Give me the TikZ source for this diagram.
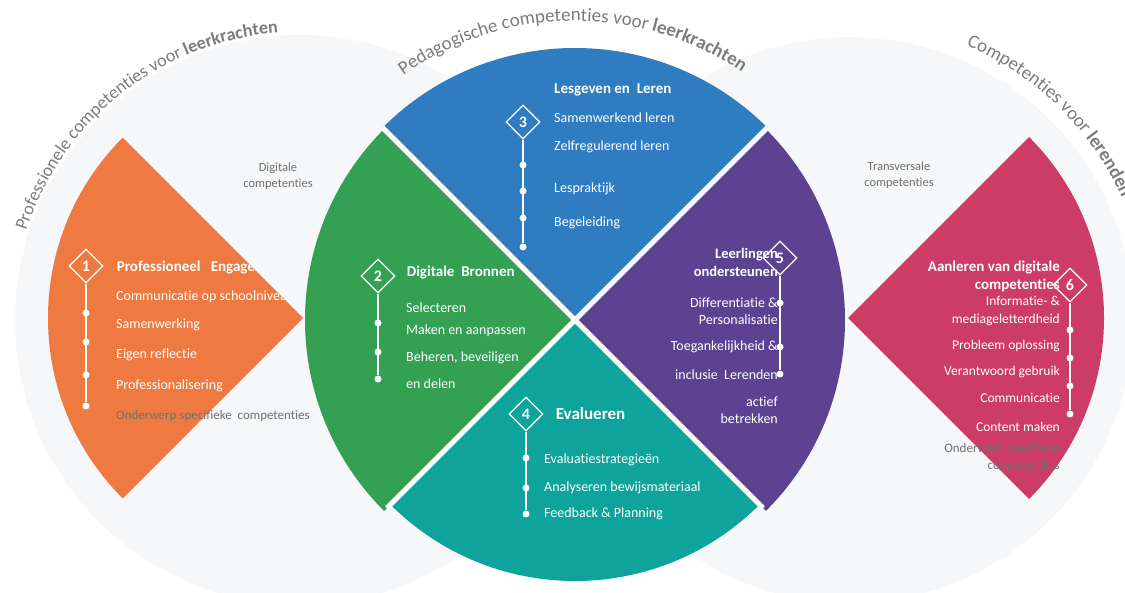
\documentclass[tikz,border=0pt]{standalone}
\usepackage{fontspec}
\setmainfont[Ligatures = {NoCommon}]{Carlito}
\usetikzlibrary{shapes.geometric, positioning, decorations.text}
\definecolor{morange}{HTML}{EE7A42}
\definecolor{mgreen}{HTML}{33A053}
\definecolor{mblue}{HTML}{2F7CC1}
\definecolor{mteal}{HTML}{0EA39B}
\definecolor{mpurp}{HTML}{5C4290}
\definecolor{mpink}{HTML}{CC3C66}
\definecolor{mbg}{HTML}{F6F7F8}
\definecolor{mgray}{HTML}{7C7C7C}
\definecolor{mtxt}{HTML}{707070}
\tikzstyle{badge} = [diamond, draw = white, line width = 1.3pt, minimum width = 34pt, minimum height = 34pt, inner sep = 0pt, text = white, font = \bfseries\fontsize{16}{16}\selectfont]
\tikzstyle{head} = [anchor = west, inner sep = 0pt, text = white, font = \bfseries\fontsize{15}{18}\selectfont]
\tikzstyle{item} = [anchor = west, inner sep = 0pt, text = white, font = \fontsize{14}{17}\selectfont]
\tikzstyle{itemr} = [item, anchor = east, align = right]
\tikzstyle{note} = [inner sep = 0pt, text = mtxt, align = center, font = \fontsize{12.5}{16}\selectfont]
\tikzstyle{dot} = [circle, fill = white, inner sep = 0pt, minimum size = 7pt]
\tikzstyle{rail} = [white, line width = 1.5pt]
\tikzstyle{gap} = [white, line width = 5pt]
\tikzstyle{arctitle} = [decorate, decoration = {text along path, text align = left, text color = mgray}]

\begin{document}
\begin{tikzpicture}[x=1pt, y=1pt, node distance = 12pt]
  \useasboundingbox (0,0) rectangle (1125,592);
  \coordinate (bgl) at (300,272);
  \coordinate (bgr) at (850,272);
  \coordinate (cc) at (575,272);
  \coordinate (oc) at (303,274);
  \coordinate (pc) at (848,274);
  % background discs
  \fill [mbg] (bgl) circle [radius = 285];
  \fill [mbg] (bgr) circle [radius = 283];
  % titles on the arcs
  \path [arctitle, decoration = {text = {|\fontsize{18}{18}\selectfont|Professionele competenties voor |+\bfseries|leerkrachten}}]
    (bgl) ++(162:288) arc [start angle = 162, end angle = 60, radius = 288];
  \path [arctitle, decoration = {text = {|\fontsize{19}{19}\selectfont|Pedagogische competenties voor |+\bfseries|leerkrachten}}]
    (cc) ++(125:299) arc [start angle = 125, end angle = 20, radius = 299];
  \path [arctitle, decoration = {text = {|\fontsize{19}{19}\selectfont|Competenties voor |+\bfseries|lerenden}}]
    (bgr) ++(67:298) arc [start angle = 67, end angle = -40, radius = 298];
  % wedges
  \fill [morange] (oc) -- ++(135:255) arc [start angle = 135, end angle = 225, radius = 255] -- cycle;
  \fill [mpink] (pc) -- ++(-45:256) arc [start angle = -45, end angle = 45, radius = 256] -- cycle;
  \fill [mblue] (cc) -- ++(45:272) arc [start angle = 45, end angle = 135, radius = 272] -- cycle;
  \fill [mgreen] (cc) -- ++(135:270) arc [start angle = 135, end angle = 225, radius = 270] -- cycle;
  \fill [mteal] (cc) -- ++(225:261) arc [start angle = 225, end angle = 315, radius = 261] -- cycle;
  \fill [mpurp] (cc) -- ++(-45:270) arc [start angle = -45, end angle = 45, radius = 270] -- cycle;
  \foreach \a/\r in {45/272, 135/272, 225/266, 315/266}
    \draw [gap] (cc) -- ++(\a:\r);
  % side notes
  \node (dignote) [note] at (278,416) {Digitale\\competenties};
  \node (transnote) [note] at (899,417) {Transversale\\competenties};

  % 1 professioneel engagement
  \node (d1) [badge] at (86,326) {1};
  \begin{scope}
    \clip (oc) -- ++(135:255) arc [start angle = 135, end angle = 225, radius = 255] -- cycle;
    \node (t1) [head, right = 13pt of d1, yshift = -2pt] {Professioneel\ \ \ Engagement};
    \node (i11) [item] at (116,295) {Communicatie op schoolniveau};
  \end{scope}
  \node (i12) [item] at (116,267) {Samenwerking};
  \node (i13) [item] at (116,237) {Eigen reflectie};
  \node (i14) [item] at (116,206) {Professionalisering};
  \node (i15) [item, text = mtxt, font = \fontsize{13}{15}\selectfont] at (116,176) {Onderwerp specifieke\ \ competenties};
  \foreach \y [count = \i] in {279, 250, 217, 186}
    \node (o\i) [dot] at (86,\y) {};
  \draw [rail] (d1.south) -- (o4);

  % 2 digitale bronnen
  \node (d2) [badge] at (378,316) {2};
  \node (t2) [head, right = 11pt of d2, yshift = 3pt] {Digitale\ \ Bronnen};
  \node (i21) [item] at (406,284) {Selecteren};
  \node (i22) [item] at (406,261) {Maken en aanpassen};
  \node (i23) [item] at (406,234) {Beheren, beveiligen};
  \node (i24) [item] at (406,208) {en delen};
  \foreach \y [count = \i] in {269, 240, 213}
    \node (g\i) [dot] at (378,\y) {};
  \draw [rail] (d2.south) -- (g3);

  % 3 lesgeven en leren
  \node (d3) [badge] at (523,470) {3};
  \node (t3) [head] at (554,502) {Lesgeven en\ \ Leren};
  \node (i31) [item] at (554,474) {Samenwerkend leren};
  \node (i32) [item] at (554,445) {Zelfregulerend leren};
  \node (i33) [item] at (554,403) {Lespraktijk};
  \node (i34) [item] at (554,369) {Begeleiding};
  \foreach \y [count = \i] in {427, 401, 374, 345}
    \node (b\i) [dot] at (523,\y) {};
  \draw [rail] (d3.south) -- (b4);

  % 4 evalueren
  \node (d4) [badge] at (526,178) {4};
  \node (t4) [head, right = 12pt of d4, font = \bfseries\fontsize{17}{17}\selectfont] {Evalueren};
  \node (i41) [item] at (544,132) {Evaluatiestrategieën};
  \node (i42) [item] at (544,104) {Analyseren bewijsmateriaal};
  \node (i43) [item] at (544,78) {Feedback \& Planning};
  \foreach \y [count = \i] in {134, 104, 78}
    \node (e\i) [dot] at (526,\y) {};
  \draw [rail] (d4.south) -- (e3);

  % 5 leerlingen ondersteunen
  \node (t5) [head, anchor = east, align = right, font = \bfseries\fontsize{14.5}{18}\selectfont] at (778,330) {Leerlingen\\ondersteunen};
  \node (d5) [badge] at (780,334) {5};
  \node (i51) [itemr] at (778,289) {Differentiatie \&};
  \node (i52) [itemr] at (778,272) {Personalisatie};
  \node (i53) [itemr] at (778,245) {Toegankelijkheid \&};
  \node (i54) [itemr] at (778,217) {inclusie\ \ Lerenden};
  \node (i55) [itemr] at (778,182) {actief\\betrekken};
  \foreach \y [count = \i] in {289, 245, 218}
    \node (l\i) [dot] at (780,\y) {};
  \draw [rail] (d5.south) -- (l3);

  % 6 aanleren van digitale competenties
  \node (t6) [head, anchor = east, align = right] at (1060,316) {Aanleren van digitale\\competenties};
  \node (d6) [badge] at (1070,307) {6};
  \node (i61) [itemr, font = \fontsize{13.5}{18}\selectfont] at (1060,281) {Informatie- \&\\mediageletterdheid};
  \node (i62) [itemr, font = \fontsize{13.5}{16}\selectfont] at (1060,246) {Probleem oplossing};
  \node (i63) [itemr, font = \fontsize{13.5}{16}\selectfont] at (1060,220) {Verantwoord gebruik};
  \node (i64) [itemr, font = \fontsize{13.5}{16}\selectfont] at (1060,194) {Communicatie};
  \node (i65) [itemr, font = \fontsize{13.5}{16}\selectfont] at (1060,165) {Content maken};
  \node (i66) [itemr, text = mtxt, font = \fontsize{13}{17}\selectfont] at (1060,134) {Onderwerp specifieke\\competenties};
  \foreach \y [count = \i] in {262, 234, 206, 178}
    \node (p\i) [dot] at (1070,\y) {};
  \draw [rail] (d6.south) -- (p4);
\end{tikzpicture}
\end{document}
